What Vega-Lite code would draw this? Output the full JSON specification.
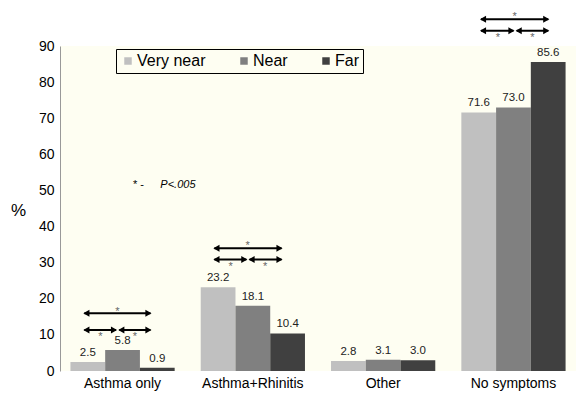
{
  "$schema": "https://vega.github.io/schema/vega-lite/v6.json",
  "autosize": {"type": "none"},
  "padding": {"left": 60, "top": 46, "right": 0, "bottom": 24},
  "width": 516,
  "height": 325,
  "background": "white",
  "view": {"fill": "#fefef2", "stroke": null},
  "config": {"font": "Liberation Sans"},
  "resolve": {"scale": {"x": "independent"}},
  "layer": [
    {
      "data": {"values": [
        {"cat": "Asthma only", "group": "Very near", "pct": 2.5},
        {"cat": "Asthma only", "group": "Near", "pct": 5.8},
        {"cat": "Asthma only", "group": "Far", "pct": 0.9},
        {"cat": "Asthma+Rhinitis", "group": "Very near", "pct": 23.2},
        {"cat": "Asthma+Rhinitis", "group": "Near", "pct": 18.1},
        {"cat": "Asthma+Rhinitis", "group": "Far", "pct": 10.4},
        {"cat": "Other", "group": "Very near", "pct": 2.8},
        {"cat": "Other", "group": "Near", "pct": 3.1},
        {"cat": "Other", "group": "Far", "pct": 3.0},
        {"cat": "No symptoms", "group": "Very near", "pct": 71.6},
        {"cat": "No symptoms", "group": "Near", "pct": 73.0},
        {"cat": "No symptoms", "group": "Far", "pct": 85.6}
      ]},
      "encoding": {
        "x": {"field": "cat", "type": "nominal", "sort": ["Asthma only", "Asthma+Rhinitis", "Other", "No symptoms"],
              "scale": {"paddingInner": 0.2, "paddingOuter": 0.08},
              "axis": {"title": null, "labelAngle": 0, "domain": false, "ticks": false, "labelPadding": 5, "labelFontSize": 14, "labelColor": "black"}},
        "xOffset": {"field": "group", "type": "nominal", "sort": ["Very near", "Near", "Far"], "scale": {"paddingInner": 0, "paddingOuter": 0}},
        "y": {"field": "pct", "type": "quantitative",
              "scale": {"domain": [0, 90], "nice": false},
              "axis": {"values": [0, 10, 20, 30, 40, 50, 60, 70, 80, 90], "labelOverlap": false, "grid": false, "ticks": false, "domainColor": "#999999", "labelFontSize": 14, "labelColor": "black", "labelPadding": 6,
                       "title": "%", "titleAngle": 0, "titleX": -42, "titleY": 164, "titleAlign": "center", "titleBaseline": "middle", "titleFontSize": 17, "titleFontWeight": "normal", "titleColor": "black"}}
      },
      "layer": [
        {
          "mark": {"type": "bar"},
          "encoding": {
            "color": {"field": "group", "type": "nominal", "sort": ["Very near", "Near", "Far"],
                      "scale": {"domain": ["Very near", "Near", "Far"], "range": ["#c0c0c0", "#808080", "#404040"]},
                      "legend": {"orient": "none", "legendX": 56, "legendY": 3, "direction": "horizontal", "title": null,
                                 "symbolType": "square", "symbolSize": 56, "symbolStrokeWidth": 0, "labelFontSize": 16, "labelColor": "black",
                                 "labelOffset": 1, "columnPadding": 30, "strokeColor": "black", "fillColor": "#fefef2", "padding": 4}}
          }
        },
        {
          "mark": {"type": "text", "baseline": "bottom", "dy": -4, "fontSize": 11.5, "color": "#222222"},
          "encoding": {"text": {"field": "pct", "type": "quantitative", "format": ".1f"}}
        }
      ]
    },
    {
      "encoding": {
        "y": {"field": "y", "type": "quantitative",
              "scale": {"domain": [0, 90], "nice": false},
              "axis": {"values": [0, 10, 20, 30, 40, 50, 60, 70, 80, 90], "labelOverlap": false, "grid": false, "ticks": false, "domainColor": "#999999", "labelFontSize": 14, "labelColor": "black", "labelPadding": 6,
                       "title": "%", "titleAngle": 0, "titleX": -42, "titleY": 164, "titleAlign": "center", "titleBaseline": "middle", "titleFontSize": 17, "titleFontWeight": "normal", "titleColor": "black"}}
      },
      "layer": [
        {
          "data": {"values": [
            {"x1": 0.187, "x2": 0.694, "y": 16.0},
            {"x1": 0.187, "x2": 0.43, "y": 11.35},
            {"x1": 0.455, "x2": 0.694, "y": 11.35},
            {"x1": 1.185, "x2": 1.70, "y": 34.0},
            {"x1": 1.185, "x2": 1.43, "y": 30.9},
            {"x1": 1.455, "x2": 1.70, "y": 30.9},
            {"x1": 3.231, "x2": 3.747, "y": 97.4},
            {"x1": 3.231, "x2": 3.48, "y": 94.2},
            {"x1": 3.505, "x2": 3.747, "y": 94.2}
          ]},
          "layer": [
            {
              "mark": {"type": "rule", "strokeWidth": 2, "color": "black"},
              "encoding": {
                "x": {"field": "x1", "type": "quantitative", "scale": {"domain": [0, 3.96], "nice": false, "zero": false}, "axis": null},
                "x2": {"field": "x2"}
              }
            },
            {
              "mark": {"type": "point", "shape": "triangle-left", "filled": true, "size": 50, "color": "black", "opacity": 1, "xOffset": 2},
              "encoding": {
                "x": {"field": "x1", "type": "quantitative", "scale": {"domain": [0, 3.96], "nice": false, "zero": false}, "axis": null}
              }
            },
            {
              "mark": {"type": "point", "shape": "triangle-right", "filled": true, "size": 50, "color": "black", "opacity": 1, "xOffset": -2},
              "encoding": {
                "x": {"field": "x2", "type": "quantitative", "scale": {"domain": [0, 3.96], "nice": false, "zero": false}, "axis": null}
              }
            }
          ]
        },
        {
          "data": {"values": [
            {"x": 0.44, "y": 17.0},
            {"x": 0.31, "y": 9.9},
            {"x": 0.575, "y": 9.9},
            {"x": 1.44, "y": 35.2},
            {"x": 1.31, "y": 29.4},
            {"x": 1.575, "y": 29.4},
            {"x": 3.49, "y": 98.7},
            {"x": 3.36, "y": 92.7},
            {"x": 3.625, "y": 92.7}
          ]},
          "mark": {"type": "text", "text": "*", "fontSize": 11, "color": "#666666", "baseline": "middle", "dy": 2},
          "encoding": {
            "x": {"field": "x", "type": "quantitative", "scale": {"domain": [0, 3.96], "nice": false, "zero": false}, "axis": null}
          }
        },
        {
          "data": {"values": [
            {"x": 0.56, "y": 51.5, "label": "*  -"}
          ]},
          "mark": {"type": "text", "align": "left", "baseline": "middle", "fontSize": 11, "color": "black"},
          "encoding": {
            "x": {"field": "x", "type": "quantitative", "scale": {"domain": [0, 3.96], "nice": false, "zero": false}, "axis": null},
            "text": {"field": "label"}
          }
        },
        {
          "data": {"values": [
            {"x": 0.77, "y": 51.5, "label": "P<.005"}
          ]},
          "mark": {"type": "text", "align": "left", "baseline": "middle", "fontSize": 11, "fontStyle": "italic", "color": "black"},
          "encoding": {
            "x": {"field": "x", "type": "quantitative", "scale": {"domain": [0, 3.96], "nice": false, "zero": false}, "axis": null},
            "text": {"field": "label"}
          }
        }
      ]
    }
  ]
}
